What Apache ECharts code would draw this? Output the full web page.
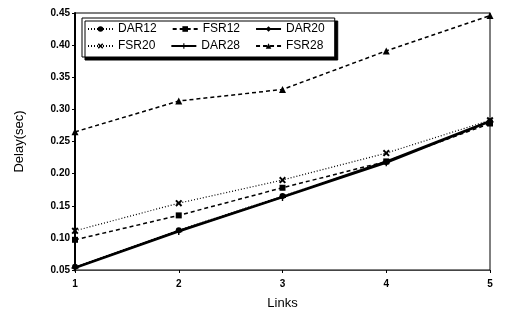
<!DOCTYPE html>
<html lang="en">
<head>
    <meta charset="UTF-8">
    <title>Delay vs Links</title>
    <script src="https://cdn.jsdelivr.net/npm/echarts@6/dist/echarts.min.js"></script>
    <style>
        body { margin: 0; background: #fff; }
    </style>
</head>
<body>
    <div id="chart" style="width: 506px; height: 315px;"></div>
    <script>
        var links = [1, 2, 3, 4, 5]
        var yTicks = [0.05, 0.10, 0.15, 0.20, 0.25, 0.30, 0.35, 0.40, 0.45]

        var dar12 = [0.055, 0.112, 0.165, 0.218, 0.281]
        var fsr12 = [0.097, 0.135, 0.178, 0.219, 0.278]
        var dar20 = [0.054, 0.111, 0.164, 0.219, 0.282]
        var fsr20 = [0.111, 0.154, 0.190, 0.232, 0.283]
        var dar28 = [0.053, 0.110, 0.163, 0.217, 0.281]
        var fsr28 = [0.265, 0.313, 0.331, 0.391, 0.446]

        var crossPath = 'path://M0,2L2,0L5,3L8,0L10,2L7,5L10,8L8,10L5,7L2,10L0,8L3,5Z'
        var plusPath = 'path://M4,0H6V4H10V6H6V10H4V6H0V4H4Z'

        function pairs(vals) {
            return links.map(function (x, i) { return [x, vals[i]] })
        }

        function line(name, vals, type, width, symbol, size) {
            return {
                name: name,
                type: 'line',
                data: pairs(vals),
                symbol: symbol,
                symbolSize: size,
                showAllSymbol: true,
                lineStyle: { color: '#000', width: width, type: type },
                itemStyle: { color: '#000' }
            }
        }

        var myChart = echarts.init(document.getElementById('chart'))
        var option = {
            animation: false,
            backgroundColor: '#fff',
            textStyle: { fontFamily: 'Liberation Sans' },
            grid: {
                left: 75, right: 16, top: 13, bottom: 37,
                show: true, borderColor: '#000', borderWidth: 1
            },
            legend: {
                left: 82, top: 18, width: 250,
                padding: [5, 0, 5, 5],
                itemGap: 5,
                itemWidth: 25,
                itemHeight: 7,
                backgroundColor: '#fff',
                borderColor: '#000',
                borderWidth: 1,
                shadowColor: '#000',
                shadowBlur: 0,
                shadowOffsetX: 3,
                shadowOffsetY: 3,
                textStyle: { fontSize: 12, color: '#000' },
                formatter: function (name) { return name + '   ' },
                data: ['DAR12', 'FSR12', 'DAR20', 'FSR20', 'DAR28', 'FSR28']
            },
            xAxis: {
                type: 'value',
                min: 1, max: 5, interval: 1,
                name: 'Links',
                nameLocation: 'middle',
                nameGap: 27,
                nameTextStyle: { fontSize: 13, color: '#000' },
                axisLine: { lineStyle: { color: '#444', width: 1 } },
                axisTick: { length: 3, lineStyle: { color: '#000' } },
                axisLabel: { fontSize: 10, fontWeight: 'bold', color: '#000', margin: 9 },
                splitLine: { show: false }
            },
            yAxis: {
                type: 'value',
                min: 0.05, max: 0.45, interval: 0.05,
                name: 'Delay(sec)',
                nameLocation: 'middle',
                nameGap: 49,
                nameTextStyle: { fontSize: 13, color: '#000' },
                axisLine: { show: true, lineStyle: { color: '#000', width: 2 } },
                axisTick: { show: true, length: 3, lineStyle: { color: '#000' } },
                axisLabel: {
                    fontSize: 10, fontWeight: 'bold', color: '#000', margin: 5,
                    formatter: function (v) {
                        var t = yTicks.filter(function (k) { return Math.abs(k - v) < 1e-6 })
                        return t.length ? t[0].toFixed(2) : ''
                    }
                },
                splitLine: { show: false }
            },
            series: [
                line('DAR12', dar12, [1, 2], 1.2, 'circle', 6),
                line('FSR12', fsr12, [4, 3], 1.5, 'rect', 6),
                line('DAR20', dar20, 'solid', 2, 'diamond', 5),
                line('FSR20', fsr20, [1, 2], 1.2, crossPath, 7),
                line('DAR28', dar28, 'solid', 2, plusPath, 7),
                line('FSR28', fsr28, [4, 3], 1.5, 'triangle', 7)
            ]
        }
        myChart.setOption(option)
    </script>
</body>
</html>
